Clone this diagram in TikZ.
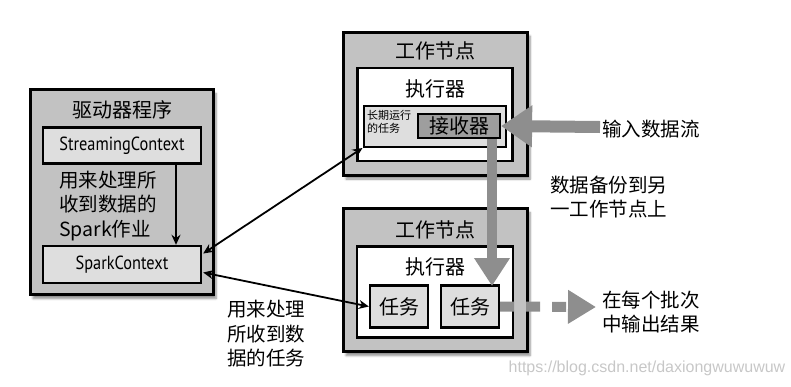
\documentclass[tikz,border=0pt]{standalone}
\usepackage{fontspec}
\setmainfont{Noto Sans CJK SC}
\newfontfamily\latinf{PT Sans}
\newfontfamily\wmf{Liberation Sans}
\usetikzlibrary{arrows.meta,shadows.blur,calc}
\definecolor{framegray}{HTML}{C2C2C2}
\definecolor{lightbox}{HTML}{DEDEDE}
\definecolor{darkbox}{HTML}{9E9E9E}
\definecolor{arrowgray}{HTML}{8E8E8E}
\tikzset{
  outerbox/.style={draw=black, line width=3pt, fill=framegray, inner sep=0pt,
    blur shadow={shadow xshift=3pt, shadow yshift=-4pt, shadow blur steps=6, shadow opacity=45}},
  whitebox/.style={draw=black, line width=2.6pt, fill=white, inner sep=0pt},
  lightrect/.style={draw=black, line width=2.4pt, fill=lightbox, inner sep=0pt},
  recvbox/.style={draw=black, line width=2.2pt, fill=darkbox, inner sep=0pt},
  cjk/.style={font=\fontsize{20}{24}\selectfont},
  cjklabel/.style={font=\fontsize{19.5}{24.5}\selectfont, align=left, inner sep=0pt},
  lat/.style={font=\fontsize{19}{22}\selectfont\latinf},
  blackarrow/.style={line width=1.8pt, {Stealth[length=10pt,width=9pt]}-{Stealth[length=10pt,width=9pt]}},
  grayarrow/.style={draw=arrowgray, line width=#1},
}
\begin{document}
\begin{tikzpicture}[x=1pt,y=-1pt]
\useasboundingbox (0,0) rectangle (791,386);
% driver
\node[outerbox, minimum width=183pt, minimum height=205pt] (drv) at (121.5,192) {};
\node[cjk] (drvt) at (122,110) {驱动器程序};
\node[lightrect, minimum width=158pt, minimum height=36pt, lat] (stc) at (122,145.5) {\scalebox{0.86}[1]{StreamingContext}};
\node[lightrect, minimum width=158pt, minimum height=37pt, lat] (spc) at (122,264.5) {\scalebox{0.86}[1]{SparkContext}};
\node[cjklabel, anchor=west] (job) at (59,206) {用来处理所\\收到数据的\\Spark作业};
\draw[line width=1.6pt, -{Stealth[length=10pt,width=9pt]}] (stc.south -| 176,0) -- (spc.north -| 176,0);
% worker 1
\node[outerbox, minimum width=184pt, minimum height=143pt] (w1) at (435,103.5) {};
\node[cjk] (w1t) at (435,51) {工作节点};
\node[whitebox, minimum width=155pt, minimum height=93pt] (ex1) at (435,114.5) {};
\node[cjk] (ex1t) at (435,89) {执行器};
\node[lightrect, line width=2pt, minimum width=142pt, minimum height=41pt] (lr) at (434.5,126.5) {};
\node[font=\fontsize{11}{12.5}\selectfont, align=left, inner sep=0pt, anchor=west] (lrt) at (367,122) {长期运行\\的任务};
\node[recvbox, minimum width=82pt, minimum height=24pt, cjk] (rcv) at (459,126) {接收器};
% worker 2
\node[outerbox, minimum width=184pt, minimum height=143pt] (w2) at (435,280) {};
\node[cjk] (w2t) at (435,230) {工作节点};
\node[whitebox, minimum width=156pt, minimum height=91pt] (ex2) at (435,292) {};
\node[cjk] (ex2t) at (435,267) {执行器};
\node[lightrect, minimum width=58pt, minimum height=42pt, cjk] (t1) at (399,306.5) {任务};
\node[lightrect, minimum width=58pt, minimum height=42pt, cjk] (t2) at (470,306.5) {任务};
% gray arrows
\coordinate (inS) at (600,127);
\coordinate (bkS) at (492,139);
\coordinate (bkE) at (492,286);
\coordinate (outE) at (596,307);
\draw[grayarrow=12pt, -{Triangle[length=31pt,width=40pt]}] (inS) -- (rcv.east);
\draw[grayarrow=10pt, -{Triangle[length=28pt,width=34pt]}] (bkS) -- (bkE);
\draw[grayarrow=10pt, dash pattern=on 14pt off 12pt, -{Triangle[length=28pt,width=32pt]}] (t2.east) -- (outE);
% black arrows
\draw[blackarrow] ($(spc.east)+(1,-11)$) -- (lr.south west);
\draw[blackarrow] ($(spc.east)+(1,8)$) -- (t1.west);
% labels
\node[cjklabel, anchor=west] (lbl1) at (227,334) {用来处理\\所收到数\\据的任务};
\node[cjklabel, anchor=west] (lbl2) at (602,129) {输入数据流};
\node[cjklabel, anchor=west] (lbl3) at (550,197) {数据备份到另\\一工作节点上};
\node[cjklabel, anchor=west] (lbl4) at (602,312) {在每个批次\\中输出结果};
\node[text=black!22, font=\fontsize{16}{16}\selectfont\wmf, inner sep=0pt] (wm) at (647,368) {https://blog.csdn.net/daxiongwuwuwuw};
\end{tikzpicture}
\end{document}
